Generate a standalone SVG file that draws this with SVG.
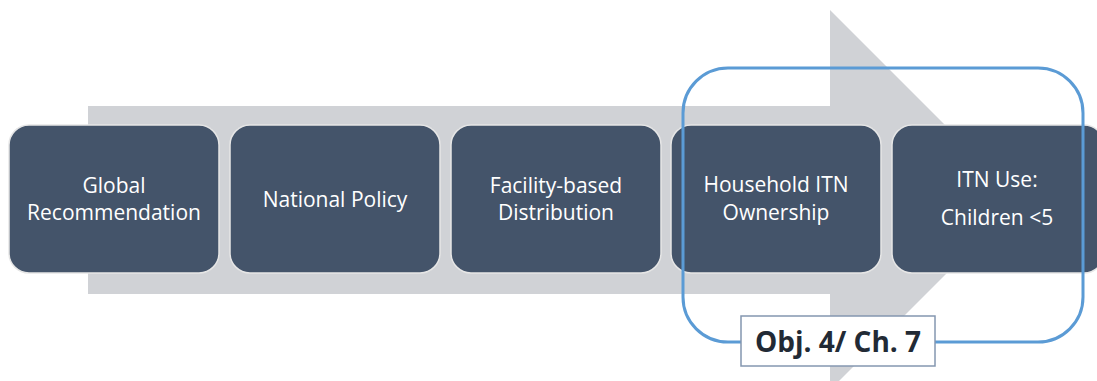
<svg xmlns="http://www.w3.org/2000/svg" width="1097" height="381" viewBox="0 0 1097 381">
<style>
.box{fill:#44546a;stroke:#e6e6e6;stroke-width:1.5}
.t{fill:#ffffff;font-family:"Open Sans","Liberation Sans",sans-serif;font-size:21px;text-anchor:middle}
.lbl{fill:#222a35;font-family:"Open Sans","Liberation Sans",sans-serif;font-size:28px;font-weight:bold;text-anchor:middle}
</style>
<rect width="1097" height="381" fill="#ffffff"/>
<g id="arrow">
<polygon points="88,106 830,106 830,10 1020,200 830,390 830,294 88,294" fill="#d0d2d6"/>
</g>
<g id="node1"><rect class="box" x="9" y="125" width="210" height="148" rx="20"/><text class="t" x="114" y="193">Global</text><text class="t" x="114" y="220">Recommendation</text></g>
<g id="node2"><rect class="box" x="230" y="125" width="210" height="148" rx="20"/><text class="t" x="335" y="207">National Policy</text></g>
<g id="node3"><rect class="box" x="451" y="125" width="210" height="148" rx="20"/><text class="t" x="556" y="193">Facility-based</text><text class="t" x="556" y="220">Distribution</text></g>
<g id="node4"><rect class="box" x="671" y="125" width="210" height="148" rx="20"/><text class="t" x="776" y="192">Household ITN</text><text class="t" x="776" y="220">Ownership</text></g>
<g id="node5"><rect class="box" x="892" y="125" width="212" height="148" rx="20"/><text class="t" x="997" y="187">ITN Use:</text><text class="t" x="997" y="225">Children &lt;5</text></g>
<g id="group-highlight"><rect x="683" y="68" width="400" height="274" rx="45" fill="none" stroke="#5b9bd5" stroke-width="3"/></g>
<g id="label"><rect x="741" y="316" width="194" height="50" fill="#ffffff" stroke="#8497b0" stroke-width="1.5"/><text class="lbl" x="838" y="352">Obj. 4/ Ch. 7</text></g>
</svg>
